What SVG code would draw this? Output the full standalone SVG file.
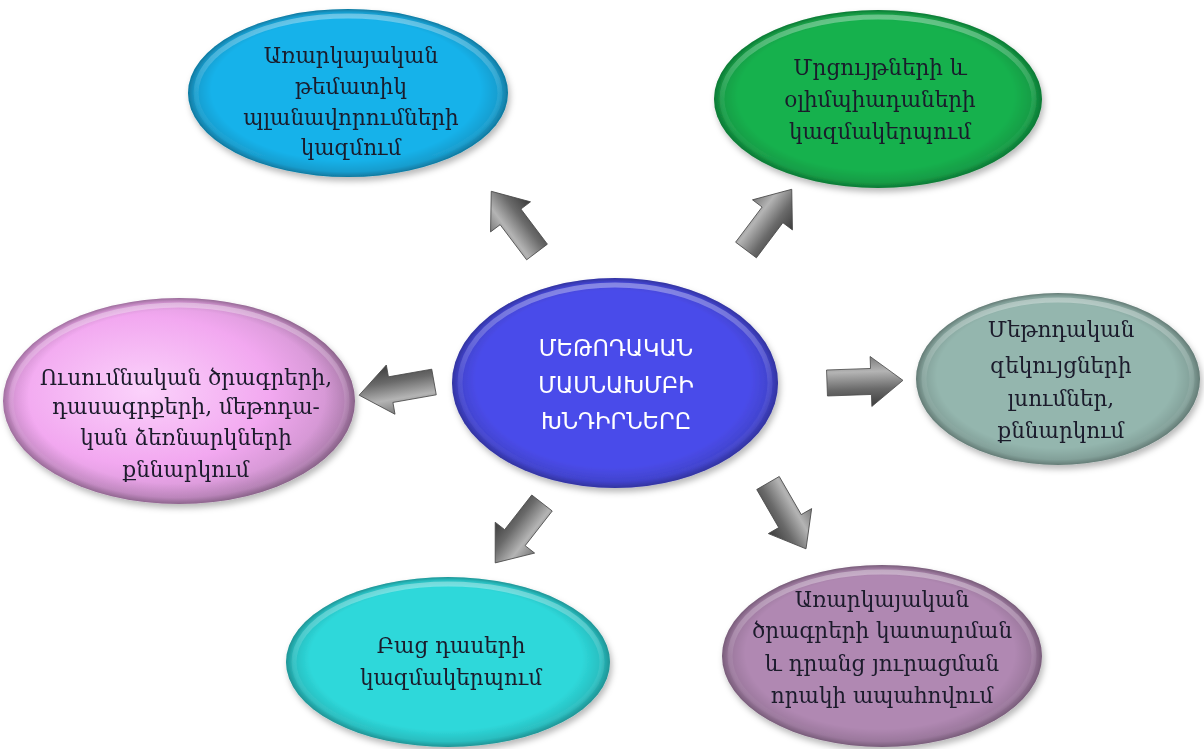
<svg xmlns="http://www.w3.org/2000/svg" width="1204" height="749" viewBox="0 0 1204 749">
<style>
.t{font-family:"DejaVu Serif","Noto Sans",serif;font-size:21.5px;text-anchor:middle;fill:#1a1a2c}
.c{font-family:"DejaVu Sans","Noto Sans",sans-serif;font-size:22.5px;text-anchor:middle;fill:#ffffff}
.rim{fill:url(#rim)}
.hl{fill:none;stroke:url(#hlg);stroke-width:5}
.arr{fill:url(#ag);stroke:#4a4a4a;stroke-width:0.8}
</style>
<defs>
<filter id="sh" x="-10%" y="-10%" width="125%" height="130%">
<feDropShadow dx="2" dy="4" stdDeviation="3" flood-color="#000" flood-opacity="0.28"/>
</filter>
<radialGradient id="rim" cx="50%" cy="50%" r="50%" fx="46%" fy="38%">
<stop offset="0.84" stop-color="#000" stop-opacity="0"/>
<stop offset="0.95" stop-color="#000" stop-opacity="0.12"/>
<stop offset="1" stop-color="#000" stop-opacity="0.32"/>
</radialGradient>
<linearGradient id="hlg" x1="0" y1="0" x2="0" y2="1">
<stop offset="0" stop-color="#fff" stop-opacity="0.35"/>
<stop offset="0.5" stop-color="#fff" stop-opacity="0.08"/>
<stop offset="1" stop-color="#fff" stop-opacity="0"/>
</linearGradient>
<radialGradient id="pk" cx="40%" cy="45%" r="60%">
<stop offset="0" stop-color="#fbd2fb"/>
<stop offset="0.6" stop-color="#f2a8f0"/>
<stop offset="1" stop-color="#c890c8"/>
</radialGradient>
<linearGradient id="ag" x1="0" y1="0" x2="0" y2="1">
<stop offset="0" stop-color="#7a7a7a"/>
<stop offset="0.3" stop-color="#b4b4b4"/>
<stop offset="0.65" stop-color="#6a6a6a"/>
<stop offset="1" stop-color="#3c3c3c"/>
</linearGradient>
<path id="ar" d="M0,-13 L44,-13 L44,-25 L76,0 L44,25 L44,13 L0,13 Z"/>
</defs>
<rect width="1204" height="749" fill="#ffffff"/>

<g id="connectors">
<use href="#ar" class="arr" transform="translate(537,252) rotate(-127)"/>
<use href="#ar" class="arr" transform="translate(746,250) rotate(-53)"/>
<use href="#ar" class="arr" transform="translate(434,382) rotate(170)"/>
<use href="#ar" class="arr" transform="translate(827,383) rotate(-2)"/>
<use href="#ar" class="arr" transform="translate(542,503) rotate(128)"/>
<use href="#ar" class="arr" transform="translate(768,483) rotate(60)"/>
</g>

<g id="n-center" filter="url(#sh)">
<ellipse cx="615" cy="383" rx="163" ry="105" fill="#4a4cea"/>
<ellipse cx="615" cy="383" rx="163" ry="105" class="rim"/>
<ellipse cx="615" cy="383" rx="155" ry="98" class="hl"/>
<text class="c" x="616" y="356">ՄԵԹՈԴԱԿԱՆ</text>
<text class="c" x="616" y="393">ՄԱՍՆԱԽՄԲԻ</text>
<text class="c" x="616" y="429">ԽՆԴԻՐՆԵՐԸ</text>
</g>

<g id="n-top-left" filter="url(#sh)">
<ellipse cx="348" cy="93" rx="160" ry="84" fill="#18b2ea"/>
<ellipse cx="348" cy="93" rx="160" ry="84" class="rim"/>
<ellipse cx="348" cy="93" rx="152" ry="77" class="hl"/>
<text class="t" x="351" y="63">Առարկայական</text>
<text class="t" x="351" y="94">թեմատիկ</text>
<text class="t" x="351" y="125">պլանավորումների</text>
<text class="t" x="351" y="155">կազմում</text>
</g>

<g id="n-top-right" filter="url(#sh)">
<ellipse cx="878" cy="99" rx="164" ry="89" fill="#16b14e"/>
<ellipse cx="878" cy="99" rx="164" ry="89" class="rim"/>
<ellipse cx="878" cy="99" rx="156" ry="82" class="hl"/>
<text class="t" x="880" y="75">Մրցույթների և</text>
<text class="t" x="880" y="107">օլիմպիադաների</text>
<text class="t" x="880" y="139">կազմակերպում</text>
</g>

<g id="n-left" filter="url(#sh)">
<ellipse cx="179" cy="401" rx="176" ry="103" fill="url(#pk)"/>
<ellipse cx="179" cy="401" rx="176" ry="103" class="rim"/>
<ellipse cx="179" cy="401" rx="168" ry="96" class="hl"/>
<text class="t" x="186" y="385">Ուսումնական ծրագրերի,</text>
<text class="t" x="186" y="414">դասագրքերի, մեթոդա-</text>
<text class="t" x="186" y="445">կան ձեռնարկների</text>
<text class="t" x="186" y="477">քննարկում</text>
</g>

<g id="n-right" filter="url(#sh)">
<ellipse cx="1058" cy="379" rx="142" ry="86" fill="#94b6ae"/>
<ellipse cx="1058" cy="379" rx="142" ry="86" class="rim"/>
<ellipse cx="1058" cy="379" rx="134" ry="79" class="hl"/>
<text class="t" x="1061" y="337">Մեթոդական</text>
<text class="t" x="1061" y="373">զեկույցների</text>
<text class="t" x="1061" y="406">լսումներ,</text>
<text class="t" x="1061" y="438">քննարկում</text>
</g>

<g id="n-bottom-left" filter="url(#sh)">
<ellipse cx="448" cy="662" rx="162" ry="85" fill="#2ed8da"/>
<ellipse cx="448" cy="662" rx="162" ry="85" class="rim"/>
<ellipse cx="448" cy="662" rx="154" ry="78" class="hl"/>
<text class="t" x="451" y="653">Բաց դասերի</text>
<text class="t" x="451" y="685">կազմակերպում</text>
</g>

<g id="n-bottom-right" filter="url(#sh)">
<ellipse cx="882" cy="656" rx="160" ry="91" fill="#b088b2"/>
<ellipse cx="882" cy="656" rx="160" ry="91" class="rim"/>
<ellipse cx="882" cy="656" rx="152" ry="84" class="hl"/>
<text class="t" x="882" y="607">Առարկայական</text>
<text class="t" x="882" y="638">ծրագրերի կատարման</text>
<text class="t" x="882" y="671">և դրանց յուրացման</text>
<text class="t" x="882" y="703">որակի ապահովում</text>
</g>
</svg>
